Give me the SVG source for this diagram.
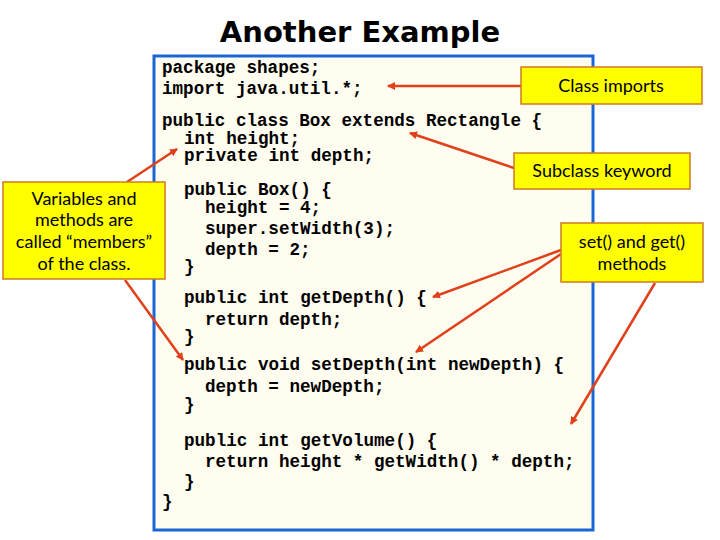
<svg xmlns="http://www.w3.org/2000/svg" width="720" height="540" viewBox="0 0 720 540">
<defs>
<marker id="ah" markerWidth="8" markerHeight="8" refX="7" refY="4" orient="auto" markerUnits="userSpaceOnUse"><path d="M0,0 L8,4 L0,8 z" fill="#e0401a"/></marker>
<style>
.code{font-family:"Liberation Mono",monospace;font-weight:bold;font-size:17.6px;fill:#000}
.call{fill:#ffff00;stroke:#d07a20;stroke-width:1.5}
.ct{font-family:"Lato","DejaVu Sans",sans-serif;font-size:18px;fill:#000;text-anchor:middle}
.arr{stroke:#e0401a;stroke-width:2.5;fill:none;marker-end:url(#ah)}
</style>
</defs>
<rect width="720" height="540" fill="#fff"/>
<text x="360" y="42" text-anchor="middle" font-family="DejaVu Sans,sans-serif" font-weight="900" font-size="29" fill="#000">Another Example</text>
<g id="code">
<rect x="154" y="56" width="439" height="474" fill="#fffdf0" stroke="#1a66d6" stroke-width="3"/>
<text class="code" x="162" y="73">package shapes;</text>
<text class="code" x="162" y="94">import java.util.*;</text>
<text class="code" x="162" y="126">public class Box extends Rectangle {</text>
<text class="code" x="184" y="144">int height;</text>
<text class="code" x="184" y="161">private int depth;</text>
<text class="code" x="184" y="195">public Box() {</text>
<text class="code" x="205" y="213">height = 4;</text>
<text class="code" x="205" y="234">super.setWidth(3);</text>
<text class="code" x="205" y="255">depth = 2;</text>
<text class="code" x="184" y="272">}</text>
<text class="code" x="184" y="303">public int getDepth() {</text>
<text class="code" x="205" y="325">return depth;</text>
<text class="code" x="184" y="342">}</text>
<text class="code" x="184" y="370">public void setDepth(int newDepth) {</text>
<text class="code" x="205" y="392">depth = newDepth;</text>
<text class="code" x="184" y="410">}</text>
<text class="code" x="184" y="446">public int getVolume() {</text>
<text class="code" x="205" y="467">return height * getWidth() * depth;</text>
<text class="code" x="184" y="487">}</text>
<text class="code" x="162" y="507">}</text>
</g>
<g id="connectors">
<line class="arr" x1="521" y1="86" x2="388" y2="86"/>
<line class="arr" x1="514" y1="168" x2="410" y2="133"/>
<line class="arr" x1="127" y1="182" x2="177" y2="149"/>
<line class="arr" x1="125" y1="280" x2="183" y2="360"/>
<line class="arr" x1="561" y1="250" x2="433" y2="297"/>
<line class="arr" x1="561" y1="254" x2="416" y2="352"/>
<line class="arr" x1="655" y1="283" x2="571" y2="424"/>
</g>
<g id="imports"><rect class="call" x="521" y="67" width="181" height="37"/><text class="ct" x="611" y="92">Class imports</text></g>
<g id="subclass"><rect class="call" x="514" y="153" width="176" height="36"/><text class="ct" x="602" y="177">Subclass keyword</text></g>
<g id="setget"><rect class="call" x="561" y="223" width="142" height="59"/><text class="ct" x="632" y="248">set() and get()</text><text class="ct" x="632" y="270">methods</text></g>
<g id="members"><rect class="call" x="3" y="182" width="162" height="97"/><text class="ct" x="84" y="205">Variables and</text><text class="ct" x="84" y="226">methods are</text><text class="ct" x="84" y="248">called “members”</text><text class="ct" x="84" y="270">of the class.</text></g>
</svg>
